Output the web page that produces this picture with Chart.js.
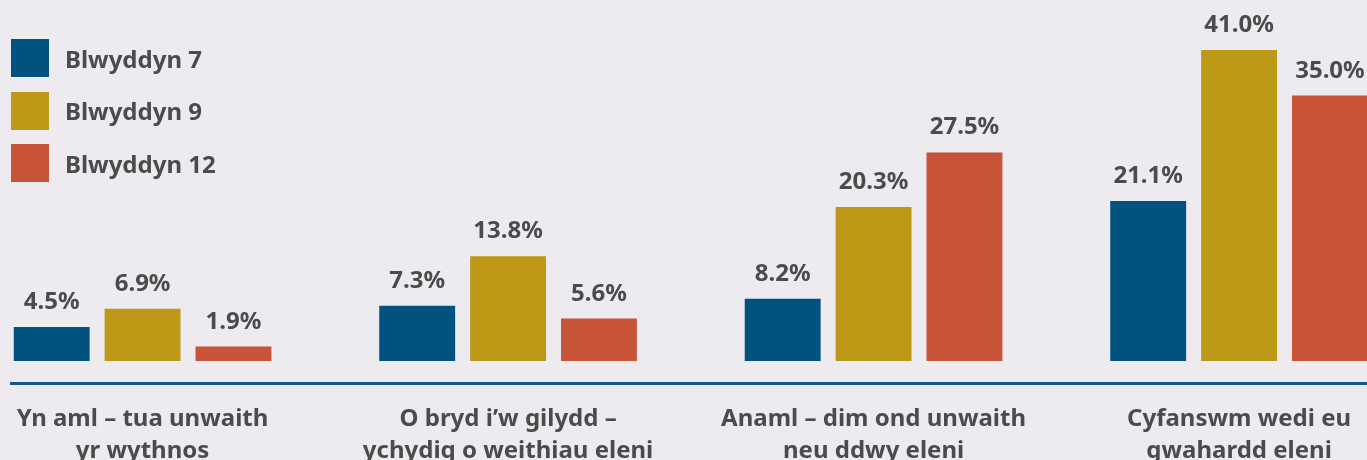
<!DOCTYPE html>
<html>
<head>
<meta charset="utf-8">
<script src="https://cdn.jsdelivr.net/npm/chart.js@4.4.1/dist/chart.umd.min.js"></script>
<style>
  html, body { margin: 0; padding: 0; background: #edebf0; overflow: hidden; }
  #wrap { position: relative; width: 1367px; height: 460px; }
  #legend { position: absolute; left: 11px; top: 39px; font-family: "Noto Sans", sans-serif; font-weight: 700; font-size: 24px; color: #4b4b4b; }
  .item { display: flex; align-items: center; height: 38px; margin-bottom: 14.5px; }
  .box { width: 38px; height: 38px; margin-right: 16px; }
</style>
</head>
<body>
<div id="wrap">
  <canvas id="chart" width="1367" height="460"></canvas>
  <div id="legend"></div>
</div>
<script>
// --- DATA ---
const categories = [
    ['Yn aml – tua unwaith', 'yr wythnos'],
    ['O bryd i’w gilydd –', 'ychydig o weithiau eleni'],
    ['Anaml – dim ond unwaith', 'neu ddwy eleni'],
    ['Cyfanswm wedi eu', 'gwahardd eleni']
];
const seriesNames = ['Blwyddyn 7', 'Blwyddyn 9', 'Blwyddyn 12'];
const year7 = [4.5, 7.3, 8.2, 21.1];
const year9 = [6.9, 13.8, 20.3, 41.0];
const year12 = [1.9, 5.6, 27.5, 35.0];
const seriesColors = ['#00527f', '#bd9917', '#c75338'];

const TEXT = '#4b4b4b';
const FONT = '"Noto Sans", sans-serif';

// value labels above each bar
const valueLabels = {
    id: 'valueLabels',
    afterDatasetsDraw(chart) {
        const ctx = chart.ctx;
        ctx.save();
        ctx.font = '700 24px ' + FONT;
        ctx.fillStyle = TEXT;
        ctx.textAlign = 'center';
        ctx.textBaseline = 'alphabetic';
        chart.data.datasets.forEach((ds, di) => {
            chart.getDatasetMeta(di).data.forEach((bar, i) => {
                ctx.fillText(ds.data[i].y.toFixed(1) + '%', bar.x, bar.y - 18);
            });
        });
        ctx.restore();
    }
};

function buildDatasets() {
    const all = [year7, year9, year12];
    return all.map((values, s) => ({
        label: seriesNames[s],
        data: values.map((v, i) => ({ x: i, y: v })),
        backgroundColor: seriesColors[s],
        categoryPercentage: 0.746,
        barPercentage: 0.835
    }));
}

function renderLegend() {
    const el = document.getElementById('legend');
    el.innerHTML = seriesNames.map((name, i) =>
        '<div class="item"><div class="box" style="background:' + seriesColors[i] + '"></div>' + name + '</div>'
    ).join('');
}

function renderChart() {
    new Chart(document.getElementById('chart'), {
        type: 'bar',
        data: { datasets: buildDatasets() },
        options: {
            responsive: false,
            animation: false,
            devicePixelRatio: 1,
            layout: { padding: { left: 11, right: 0, top: 0, bottom: 0 } },
            plugins: { legend: { display: false }, tooltip: { enabled: false } },
            scales: {
                x: {
                    type: 'linear',
                    min: -0.36,
                    max: 3.35,
                    offset: false,
                    grid: { display: false },
                    border: { color: '#0f5a8a', width: 3 },
                    afterBuildTicks(scale) {
                        scale.ticks = categories.map((_, i) => ({ value: i }));
                    },
                    afterFit(scale) { scale.height = 77; },
                    ticks: {
                        autoSkip: false,
                        maxRotation: 0,
                        padding: 13,
                        color: TEXT,
                        font: { family: FONT, weight: '700', size: 24, lineHeight: 1.3 },
                        callback: (v) => categories[v]
                    }
                },
                y: {
                    display: false,
                    min: -2.9,
                    max: 47.6
                }
            }
        },
        plugins: [valueLabels]
    });
}

document.addEventListener('DOMContentLoaded', () => {
    renderLegend();
    renderChart();
});
</script>
</body>
</html>
